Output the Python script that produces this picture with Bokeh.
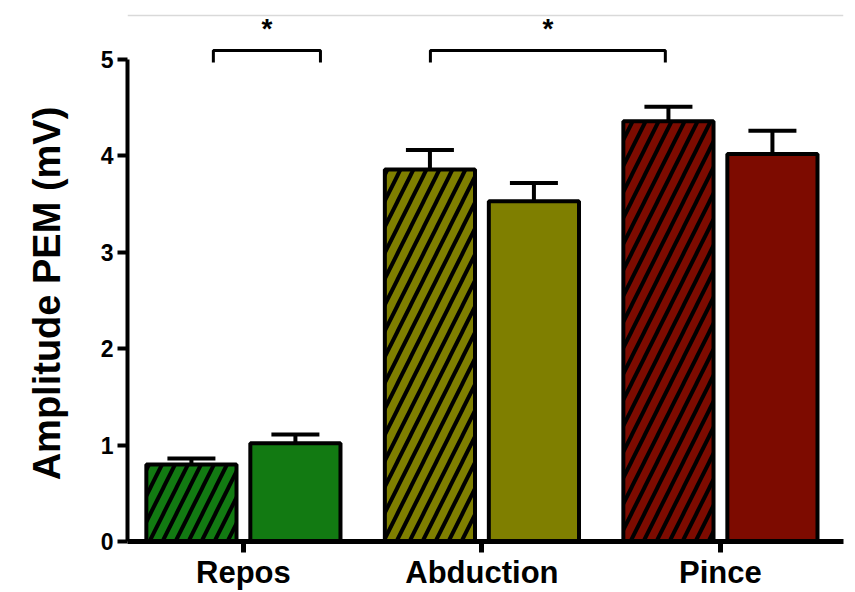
from bokeh.plotting import figure
from bokeh.layouts import column
from bokeh.models import (FixedTicker, Whisker, TeeHead, ColumnDataSource, Range1d, Span)
from bokeh.embed import file_html
from bokeh.resources import INLINE
from bokeh.core.properties import value

# ---- data ----
categories = ["Repos", "Abduction", "Pince"]
hatched_values = [0.80, 3.86, 4.36]
hatched_errors = [0.06, 0.20, 0.15]
solid_values = [1.02, 3.53, 4.02]
solid_errors = [0.09, 0.19, 0.24]
colors = ["#127a12", "#7f7f00", "#7d0b00"]
y_ticks = [0, 1, 2, 3, 4, 5]
y_label = "Amplitude PEM (mV)"
# significance brackets: (left x, right x) in category units, and their marks
sig_pairs = [(-0.126, 0.323), (0.784, 1.769)]
sig_labels = ["*", "*"]

FONT = "Liberation Sans"
offset = 0.218
bar_w = 0.378

idx = list(range(len(categories)))
hx = [i - offset for i in idx]
sx = [i + offset for i in idx]

X0, X1 = -0.486, 2.516          # frame x extent (category units)
TOP_H = 45

# ---------------- top strip: rule + significance stars ----------------
top = figure(width=855, height=TOP_H, output_backend="svg", toolbar_location=None,
             x_range=Range1d(X0, X1), y_range=Range1d(0, TOP_H),
             min_border_left=127, min_border_right=12, min_border_top=0, min_border_bottom=0)
top.axis.visible = False
top.grid.visible = False
top.outline_line_color = None
top.add_layout(Span(location=TOP_H - 15, dimension="width", line_color="#d9d9d9", line_width=1.5))
top.text(x=[(a + b) / 2 for a, b in sig_pairs], y=[17] * len(sig_pairs), text=sig_labels,
         text_font=value(FONT), text_font_style="bold", text_font_size="28px",
         text_align="center", text_baseline="middle", text_color="black")

# ---------------- main chart ----------------
p = figure(width=855, height=592 - TOP_H, output_backend="svg", toolbar_location=None,
           x_range=Range1d(X0, X1), y_range=Range1d(0, 5.145),
           min_border_left=127, min_border_right=12, min_border_top=0,
           min_border_bottom=51)
p.outline_line_color = None
p.xgrid.visible = False
p.ygrid.visible = False

hsrc = ColumnDataSource(dict(x=hx, top=hatched_values, color=colors,
                             upper=[v + e for v, e in zip(hatched_values, hatched_errors)]))
ssrc = ColumnDataSource(dict(x=sx, top=solid_values, color=colors,
                             upper=[v + e for v, e in zip(solid_values, solid_errors)]))

for src in (hsrc, ssrc):
    p.add_layout(Whisker(base="x", lower="top", upper="upper", source=src,
                         line_color="black", line_width=4,
                         upper_head=TeeHead(size=48, line_width=4, line_color="black"),
                         lower_head=None, level="underlay"))

p.vbar(x="x", top="top", width=bar_w, source=hsrc, fill_color="color",
       line_color="black", line_width=4, hatch_pattern="/", hatch_color="black",
       hatch_weight=4, hatch_scale=26)
p.vbar(x="x", top="top", width=bar_w, source=ssrc, fill_color="color",
       line_color="black", line_width=4)

# brackets
b_top = 5.093
b_leg = 4.969
bx, by = [], []
for (a, b) in sig_pairs:
    bx.append([a, a, b, b])
    by.append([b_leg, b_top, b_top, b_leg])
p.multi_line(xs=bx, ys=by, line_color="black", line_width=3)

# axes
xa = p.xaxis[0]
xa.ticker = FixedTicker(ticks=idx)
xa.major_label_overrides = {i: c for i, c in zip(idx, categories)}
xa.minor_tick_line_color = None
xa.major_tick_in = 0
xa.major_tick_out = 11
xa.major_tick_line_width = 5
xa.axis_line_width = 5
xa.major_label_text_font = FONT
xa.major_label_text_font_style = "bold"
xa.major_label_text_font_size = "31px"
xa.major_label_text_color = "black"
xa.major_label_standoff = 2

ya = p.yaxis[0]
ya.ticker = FixedTicker(ticks=y_ticks)
ya.bounds = (0, 5)
ya.minor_tick_line_color = None
ya.major_tick_in = 0
ya.major_tick_out = 10
ya.major_tick_line_width = 4
ya.axis_line_width = 4
ya.major_label_text_font = FONT
ya.major_label_text_font_style = "bold"
ya.major_label_text_font_size = "23px"
ya.major_label_text_color = "black"
ya.major_label_standoff = 4
ya.axis_label = y_label
ya.axis_label_text_font = FONT
ya.axis_label_text_font_style = "bold"
ya.axis_label_text_font_size = "38px"
ya.axis_label_text_color = "black"
ya.axis_label_standoff = 30

layout = column(top, p, spacing=0)
open("out.html", "w").write(file_html(layout, INLINE))
